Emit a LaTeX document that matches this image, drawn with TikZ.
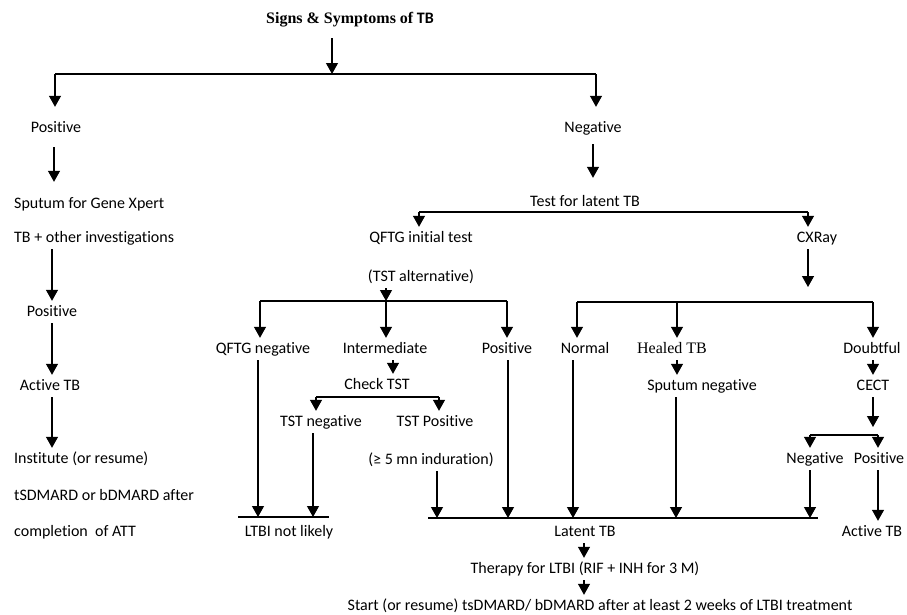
\documentclass[tikz,border=0pt]{standalone}
\usepackage{fontspec}
\setmainfont[Ligatures=NoCommon]{Carlito}
\newfontfamily\serifb{Liberation Serif}
\usetikzlibrary{arrows.meta}

\tikzset{
  lbl/.style={font=\fontsize{16}{18}\selectfont, inner xsep=1pt, inner ysep=4pt, text height=11pt, text depth=3pt},
  arr/.style={-{Triangle[width=12pt,length=11pt]}, line width=1.2pt},
  bar/.style={line width=1.2pt},
}

\begin{document}
\begin{tikzpicture}[x=1pt,y=-1pt]
\useasboundingbox (0,0) rectangle (907,614);

\node[lbl] (title) at (350,19) {{\serifb\bfseries Signs \& Symptoms of} {\bfseries TB}};

% left branch
\node[lbl] (pos1) at (56,128) {Positive};
\node[lbl,anchor=west] (sputum) at (13,204) {Sputum for Gene Xpert};
\node[lbl,anchor=west] (tbinv) at (13,238) {TB + other investigations};
\node[lbl] (pos2) at (52,312) {Positive};
\node[lbl] (act1) at (50,386) {Active TB};
\node[lbl,anchor=west] (inst) at (13,459) {Institute (or resume)};
\node[lbl,anchor=west] (dmard) at (13,496) {tSDMARD or bDMARD after};
\node[lbl,anchor=west] (compl) at (13,532) {completion\ \ of ATT};

% right branch
\node[lbl] (neg1) at (593,128) {Negative};
\node[lbl] (latent) at (585,202) {Test for latent TB};
\node[lbl] (qftg) at (421,238) {QFTG initial test};
\node[lbl] (cxr) at (817,238) {CXRay};
\node[lbl] (tstalt) at (421,277) {(TST alternative)};
\node[lbl] (qneg) at (263,349) {QFTG negative};
\node[lbl] (inter) at (385,349) {Intermediate};
\node[lbl] (qpos) at (507,349) {Positive};
\node[lbl] (normal) at (585,349) {Normal};
\node[lbl] (healed) at (672,349) {\serifb Healed TB};
\node[lbl] (doubt) at (872,349) {Doubtful};
\node[lbl] (check) at (377,385) {Check TST};
\node[lbl] (sneg) at (702,386) {Sputum negative};
\node[lbl] (cect) at (873,386) {CECT};
\node[lbl] (tneg) at (321,422) {TST negative};
\node[lbl] (tpos) at (435,422) {TST Positive};
\node[lbl] (indur) at (431,460) {(≥ 5 mn induration)};
\node[lbl] (cneg) at (815,459) {Negative};
\node[lbl] (cpos) at (879,459) {Positive};
\node[lbl] (ltbi) at (289,532) {LTBI not likely};
\node[lbl] (ltb) at (585,532) {Latent TB};
\node[lbl] (act2) at (872,532) {Active TB};
\node[lbl] (ther) at (585,569) {Therapy for LTBI (RIF + INH for 3 M)};
\node[lbl] (start) at (600,606) {Start (or resume) tsDMARD/ bDMARD after at least 2 weeks of LTBI treatment};

% junctions of the bars
\coordinate (b1) at (332,74);
\coordinate (b2l) at (419,212);
\coordinate (b2r) at (808,212);
\coordinate (b3l) at (260,301);
\coordinate (b3) at (386,301);
\coordinate (b3r) at (507,301);
\coordinate (b4l) at (316,397);
\coordinate (b4r) at (439,397);
\coordinate (b6l) at (238,517);
\coordinate (b6r) at (329,517);
\coordinate (b5l) at (428,518);
\coordinate (b5r) at (818,518);
\coordinate (b7l) at (577,302);
\coordinate (b7m) at (677,302);
\coordinate (b7r) at (873,302);
\coordinate (b8l) at (810,435);
\coordinate (b8r) at (878,435);

\draw[bar] (55,74) -- (596,74);
\draw[bar] (b2l) -- (b2r);
\draw[bar] (b3l) -- (b3r);
\draw[bar] (b4l) -- (b4r);
\draw[bar] (b6l) -- (b6r);
\draw[bar] (b5l) -- (b5r);
\draw[bar] (b7l) -- (b7r);
\draw[bar] (b8l) -- (b8r);

\draw[arr,shorten <=8pt] (b1 |- title.south) -- (b1);
\draw[arr,shorten >=10pt] (55,74) -- (55,74 |- pos1.north);
\draw[arr,shorten >=10pt] (596,74) -- (596,74 |- neg1.north);

% left column
\draw[arr,shorten <=8pt,shorten >=11pt] ([xshift=-2pt]pos1.south) -- ([xshift=-2pt]pos1.south |- sputum.north);
\draw[arr] (pos2 |- tbinv.south) -- (pos2.north);
\draw[arr] (pos2.south) -- (pos2.south |- act1.north);
\draw[arr] (pos2 |- act1.south) -- (pos2 |- inst.north);

% latent TB tests
\draw[arr,shorten <=5pt,shorten >=13pt] (neg1.south) -- (neg1.south |- latent.north);
\draw[arr] (b2l) -- (b2l |- qftg.north);
\draw[arr] (b2r) -- (b2r |- cxr.north);
\draw[arr] (b3 |- tstalt.south) -- (b3);
\draw[arr] (b3l) -- (b3l |- qneg.north);
\draw[arr] (b3) -- (b3 |- inter.north);
\draw[arr] (b3r) -- (b3r |- qpos.north);
\draw[arr] ([xshift=8pt]inter.south) -- ([xshift=8pt]inter.south |- check.north);
\draw[arr] (b4l) -- (b4l |- tneg.north);
\draw[arr] (b4r) -- (b4r |- tpos.north);
\draw[arr] ([xshift=-5pt]qneg.south) -- ([xshift=-5pt]qneg.south |- b6l);
\draw[arr] ([xshift=-8pt]tneg.south) -- ([xshift=-8pt]tneg.south |- b6l);
\draw[arr] ([xshift=6pt]indur.south) -- ([xshift=6pt]indur.south |- b5l);
\draw[arr] ([xshift=1pt]qpos.south) -- ([xshift=1pt]qpos.south |- b5l);

% chest X-ray
\draw[arr,shorten >=15pt] (b2r |- cxr.south) -- (b2r |- b7l);
\draw[arr] (b7l) -- (b7l |- normal.north);
\draw[arr] (b7m) -- (b7m |- healed.north);
\draw[arr] (b7r) -- (b7r |- doubt.north);
\draw[arr] (b7m |- healed.south) -- (b7m |- sneg.north);
\draw[arr] (b7r |- doubt.south) -- (b7r |- cect.north);
\draw[arr,shorten >=8pt] (b7r |- cect.south) -- (b7r |- b8l);
\draw[arr] (b8l) -- (b8l |- cneg.north);
\draw[arr] (b8r) -- (b8r |- cpos.north);
\draw[arr] ([xshift=-12pt]normal.south) -- ([xshift=-12pt]normal.south |- b5l);
\draw[arr] ([xshift=-26pt]sneg.south) -- ([xshift=-26pt]sneg.south |- b5l);
\draw[arr] (b8l |- cneg.south) -- (b8l |- b5l);
\draw[arr] (b8r |- cpos.south) -- (b8r |- act2.north);

% treatment
\draw[arr] ([xshift=-1pt]ltb.south) -- ([xshift=-1pt]ltb.south |- ther.north);
\draw[arr] ([xshift=-1pt]ther.south) -- ([xshift=-1pt]ther.south |- start.north);
\end{tikzpicture}
\end{document}
